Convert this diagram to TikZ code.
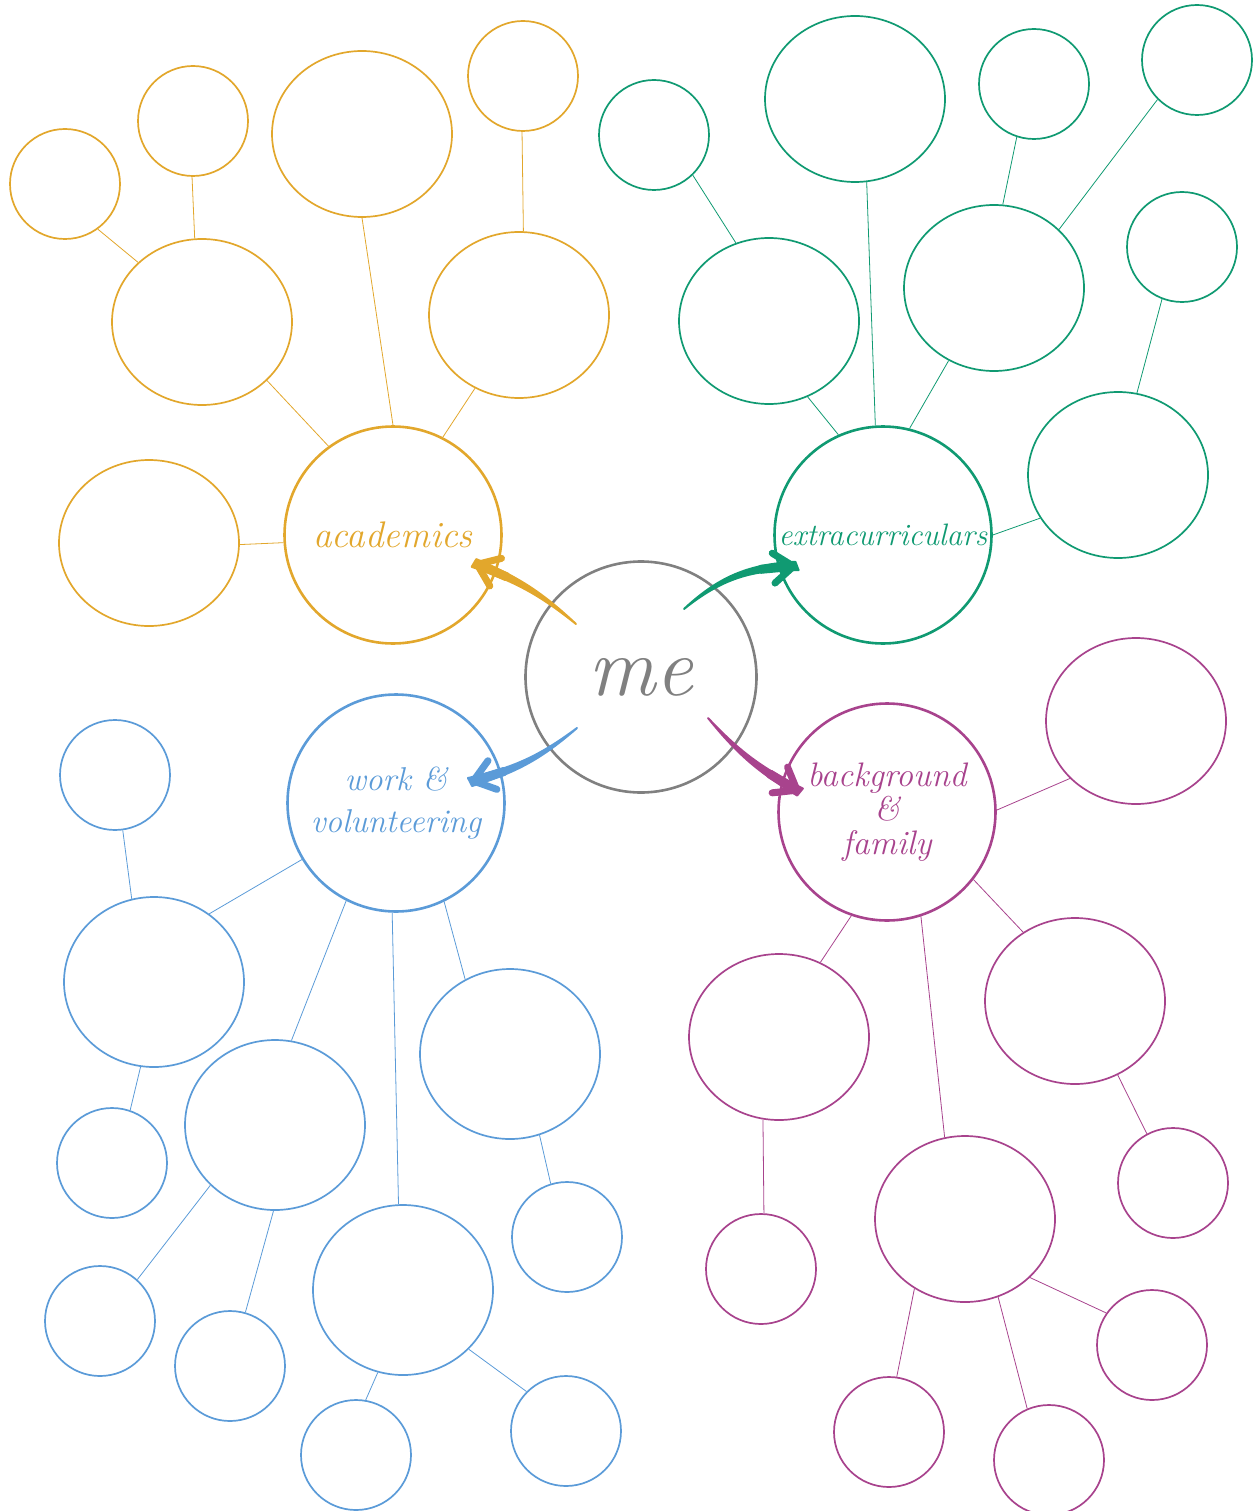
\documentclass[tikz,border=0pt]{standalone}
\usepackage{fontspec}
\usetikzlibrary{shapes.geometric,arrows.meta,calc}
\definecolor{cy}{HTML}{E2A72C}
\definecolor{cg}{HTML}{109A72}
\definecolor{cb}{HTML}{5B9BD8}
\definecolor{cm}{HTML}{A8438D}
\definecolor{cgr}{HTML}{808080}
\begin{document}
\begin{tikzpicture}[x=1pt,y=-1pt,
 sm/.style={ellipse,draw=#1,inner sep=0pt,minimum width=110pt,minimum height=110pt,line width=1.7pt},
 lg/.style={ellipse,draw=#1,inner sep=0pt,minimum width=180pt,minimum height=166pt,line width=1.7pt},
 cat/.style={circle,draw=#1,text=#1,inner sep=0pt,minimum size=217pt,line width=2.6pt,align=center},
 lnk/.style={draw=#1,line width=0.8pt},
 taper/.style={draw=#1,fill=#1,line width=2pt,line join=round,line cap=round},
 brush/.style={draw=#1,line width=9pt,line cap=round,
   -{Straight Barb[length=20pt,width=30pt,line width=7pt,round]}},
]
\useasboundingbox (0,0) rectangle (1252,1511);

% ---------- centre ----------
\node[circle,draw=cgr,text=cgr,inner sep=0pt,minimum size=231pt,line width=2.6pt,
      font=\itshape\fontsize{84}{90}\selectfont] (me) at (641,677) {me};

% ---------- academics ----------
\node[cat=cy,font=\itshape\fontsize{37}{40}\selectfont] (acad) at (393,535) {academics};
\node[sm=cy] (A1) at (65,184) {};
\node[sm=cy] (A2) at (193,121) {};
\node[lg=cy] (A3) at (362,134) {};
\node[sm=cy] (A4) at (523,76) {};
\node[lg=cy] (A5) at (202,322) {};
\node[lg=cy] (A6) at (519,315) {};
\node[lg=cy] (A7) at (149,543) {};
\draw[lnk=cy] (A1.-54) -- (A5.137);
\draw[lnk=cy] (A2.-91) -- (A5.95);
\draw[lnk=cy] (A3.-90) -- (acad.90);
\draw[lnk=cy] (A4.-91) -- (A6.87);
\draw[lnk=cy] (A5.-42) -- (acad.126);
\draw[lnk=cy] (A6.-121) -- (acad.63);
\draw[lnk=cy] (A7.-1) -- (acad.184);

% ---------- extracurriculars ----------
\node[cat=cg,font=\itshape\fontsize{31}{32}\selectfont] (extra) at (883,535) {extracurriculars};
\node[sm=cg] (E1) at (654,135) {};
\node[lg=cg] (E2) at (855,99) {};
\node[sm=cg] (E3) at (1034,84) {};
\node[sm=cg] (E4) at (1197,60) {};
\node[lg=cg] (E5) at (769,321) {};
\node[lg=cg] (E6) at (994,288) {};
\node[sm=cg] (E7) at (1182,247) {};
\node[lg=cg] (E8) at (1118,475) {};
\draw[lnk=cg] (E1.-46) -- (E5.113);
\draw[lnk=cg] (E2.-82) -- (extra.94);
\draw[lnk=cg] (E5.-63) -- (extra.114);
\draw[lnk=cg] (E6.-122) -- (extra.76);
\draw[lnk=cg] (E3.-108) -- (E6.84);
\draw[lnk=cg] (E4.-135) -- (E6.42);
\draw[lnk=cg] (E7.-111) -- (E8.77);
\draw[lnk=cg] (E8.209) -- (extra.0);

% ---------- work & volunteering ----------
\node[cat=cb,font=\itshape\fontsize{33}{42}\selectfont] (work) at (396,803) {work \&\\volunteering};
\node[sm=cb] (W1) at (115,775) {};
\node[lg=cb,minimum height=170pt] (W2) at (154,982) {};
\node[sm=cb] (W3) at (112,1163) {};
\node[lg=cb,minimum height=170pt] (W4) at (275,1125) {};
\node[lg=cb,minimum height=170pt] (W5) at (510,1054) {};
\node[sm=cb] (W6) at (567,1237) {};
\node[sm=cb] (W7) at (100,1321) {};
\node[sm=cb] (W8) at (230,1366) {};
\node[lg=cb,minimum height=170pt] (W9) at (403,1290) {};
\node[sm=cb] (W10) at (356,1455) {};
\node[sm=cb] (W11) at (566,1431) {};
\draw[lnk=cb] (W1.-82) -- (W2.105);
\draw[lnk=cb] (W2.51) -- (work.211);
\draw[lnk=cb] (W4.79) -- (work.-117);
\draw[lnk=cb] (W9.93) -- (work.-92);
\draw[lnk=cb] (W5.121) -- (work.-64);
\draw[lnk=cb] (W2.-99) -- (W3.71);
\draw[lnk=cb] (W4.-137) -- (W7.48);
\draw[lnk=cb] (W4.-91) -- (W8.74);
\draw[lnk=cb] (W9.-107) -- (W10.80);
\draw[lnk=cb] (W9.-42) -- (W11.135);
\draw[lnk=cb] (W5.-70) -- (W6.107);

% ---------- background & family ----------
\node[cat=cm,font=\itshape\fontsize{34}{34}\selectfont] (bg) at (887,812) {background\\\&\\family};
\node[lg=cm] (B1) at (1136,721) {};
\node[lg=cm] (B2) at (779,1037) {};
\node[lg=cm] (B3) at (1075,1001) {};
\node[sm=cm] (B4) at (761,1269) {};
\node[sm=cm] (B5) at (1173,1183) {};
\node[lg=cm] (B6) at (965,1219) {};
\node[sm=cm] (B7) at (1152,1345) {};
\node[sm=cm] (B8) at (889,1432) {};
\node[sm=cm] (B9) at (1049,1460) {};
\draw[lnk=cm] (B1.-139) -- (bg.1);
\draw[lnk=cm] (bg.-38) -- (B3.127);
\draw[lnk=cm] (bg.-109) -- (B2.61);
\draw[lnk=cm] (bg.-72) -- (B6.104);
\draw[lnk=cm] (B2.-101) -- (B4.87);
\draw[lnk=cm] (B3.-60) -- (B5.118);
\draw[lnk=cm] (B6.-42) -- (B7.145);
\draw[lnk=cm] (B6.-126) -- (B8.82);
\draw[lnk=cm] (B6.-67) -- (B9.113);

% ---------- arrows (tapered brush strokes) ----------
\coordinate (y0) at (576,624); \coordinate (y1) at (474,563);
\coordinate (g0) at (684,609); \coordinate (g1) at (797,566);
\coordinate (b0) at (577,728); \coordinate (b1) at (470,782);
\coordinate (m0) at (708,718); \coordinate (m1) at (800,792);
\path (y0) to[bend right=10] coordinate[pos=0.72] (yc) (y1);
\path (g0) to[bend left=20]  coordinate[pos=0.72] (gc) (g1);
\path (b0) to[bend left=12]  coordinate[pos=0.72] (bc) (b1);
\path (m0) to[bend right=10] coordinate[pos=0.72] (mc) (m1);
% yellow
\filldraw[taper=cy] (y0) to[bend right=10] ($(y1)!4.5pt!90:(y0)$) -- ($(y1)!4.5pt!-90:(y0)$) to[bend left=10] (y0) -- cycle;
\draw[brush=cy] (yc) -- (y1);
% green
\filldraw[taper=cg] (g0) to[bend left=20] ($(g1)!4.5pt!90:(g0)$) -- ($(g1)!4.5pt!-90:(g0)$) to[bend right=20] (g0) -- cycle;
\draw[brush=cg] (gc) -- (g1);
% blue
\filldraw[taper=cb] (b0) to[bend left=12] ($(b1)!4.5pt!90:(b0)$) -- ($(b1)!4.5pt!-90:(b0)$) to[bend right=12] (b0) -- cycle;
\draw[brush=cb] (bc) -- (b1);
% magenta
\filldraw[taper=cm] (m0) to[bend right=10] ($(m1)!4.5pt!90:(m0)$) -- ($(m1)!4.5pt!-90:(m0)$) to[bend left=10] (m0) -- cycle;
\draw[brush=cm] (mc) -- (m1);
\end{tikzpicture}
\end{document}
